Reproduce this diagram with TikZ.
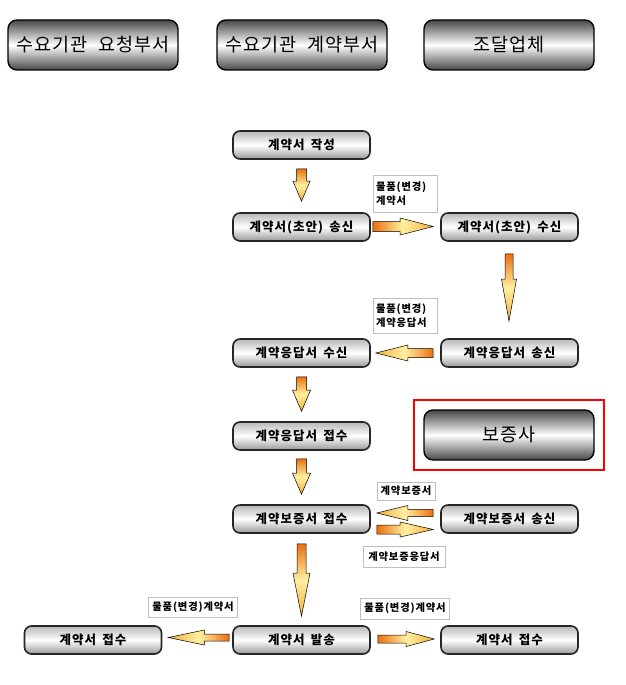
\documentclass[tikz,border=0pt]{standalone}
\usepackage{fontspec}
\setmainfont{Noto Sans CJK KR}
\newfontfamily\hdrfont[LetterSpace=6,WordSpace=2]{Noto Sans CJK KR}
\newfontfamily\spfont[LetterSpace=8,WordSpace=1.6]{Noto Sans CJK KR}
\usetikzlibrary{calc,fit}
\definecolor{arrOr}{HTML}{EA7010}
\definecolor{arrYe}{HTML}{FFEFA0}
\definecolor{arrGo}{HTML}{F2B040}
\tikzset{
 hdr/.style={draw=black, line width=1.4pt, rounded corners=9pt, minimum width=170pt, minimum height=50pt,
   top color=black!72, bottom color=black!72, middle color=white, font=\hdrfont\fontsize{18.5}{21}\selectfont, inner sep=0pt},
 flow/.style={draw=black!85, line width=1.6pt, rounded corners=7pt, minimum width=137pt, minimum height=28pt,
   top color=black!28, bottom color=black!40, middle color=white, font=\spfont\bfseries\fontsize{12.5}{14}\selectfont, inner sep=0pt},
 lbl/.style={draw=black!25, line width=0.8pt, fill=white, font=\spfont\bfseries\fontsize{10.3}{14}\selectfont, inner sep=0pt},
 barr/.style={draw=black, line width=0.5pt, line join=miter},
 rarr/.style={barr, left color=arrOr, right color=arrGo, middle color=arrYe},
 larr/.style={barr, left color=arrGo, right color=arrOr, middle color=arrYe},
 darr/.style={barr, top color=arrOr, bottom color=arrGo, middle color=arrYe},
 redframe/.style={draw=red, line width=2.5pt, inner xsep=9.5pt, inner ysep=9.5pt},
}
% #1 style, #2 start, #3 end, #4 shaft half width, #5 head half width, #6 head length
\newcommand\blockarrow[6]{%
  \coordinate (bah) at ($#3!#6!#2$);
  \path[#1] ($#2!#4!90:#3$) -- ($(bah)!#4!90:#3$) -- ($(bah)!#5!90:#3$) -- #3
    -- ($(bah)!#5!-90:#3$) -- ($(bah)!#4!-90:#3$) -- ($#2!#4!-90:#3$) -- cycle;}
\begin{document}
\begin{tikzpicture}[x=1pt,y=-1pt]
\useasboundingbox (0,0) rectangle (625,685);
% headers
\node[hdr] (h1) at (93,45) {수요기관 요청부서};
\node[hdr] (h2) at (302,45) {수요기관 계약부서};
\node[hdr] (h3) at (509,45) {조달업체};
% flow boxes
\node[flow] (a1) at (301.5,145) {계약서 작성};
\node[flow] (a2) at (301.5,227) {계약서(초안) 송신};
\node[flow] (b2) at (509.5,227) {계약서(초안) 수신};
\node[flow] (b3) at (509.5,353) {계약응답서 송신};
\node[flow] (a3) at (301.5,353) {계약응답서 수신};
\node[flow] (a4) at (301.5,436) {계약응답서 접수};
\node[flow] (a5) at (301.5,519) {계약보증서 접수};
\node[flow] (b5) at (509.5,519) {계약보증서 송신};
\node[flow] (a6) at (301.5,640) {계약서 발송};
\node[flow] (c6) at (93,640) {계약서 접수};
\node[flow] (b6) at (509.5,640) {계약서 접수};
% guarantor
\node[hdr] (g) at (509,435) {보증사};
\node[redframe, fit=(g)] (gf) {};
% labels
\node[lbl, text width=58pt, inner xsep=3pt, minimum height=37pt, align=left] (l1) at (405,193.5) {물품(변경)\\계약서};
\node[lbl, text width=58pt, inner xsep=3pt, minimum height=35pt, align=left] (l2) at (405,315.5) {물품(변경)\\계약응답서};
\node[lbl, minimum width=58pt, minimum height=18pt] (l3) at (406,491) {계약보증서};
\node[lbl, minimum width=82pt, minimum height=21pt] (l4) at (404,556.5) {계약보증응답서};
\node[lbl, minimum width=89pt, minimum height=20pt] (l5) at (193,607) {물품(변경)계약서};
\node[lbl, minimum width=89pt, minimum height=21pt] (l6) at (405,608.5) {물품(변경)계약서};
% arrow end points
\coordinate (s1) at ($(a1.south)+(0,9)$);   \coordinate (e1) at ($(a2.north)+(0,-11)$);
\coordinate (s2) at ($(a2.east)+(2,-0.5)$); \coordinate (e2) at ($(b2.west)+(-7,-0.5)$);
\coordinate (s3) at ($(b2.south)+(-0.5,12)$); \coordinate (e3) at ($(b3.north)+(-0.5,-17)$);
\coordinate (s4) at ($(b3.west)+(-7,0)$);   \coordinate (e4) at ($(a3.east)+(5,0)$);
\coordinate (s5) at ($(a3.south)+(0,9)$);   \coordinate (e5) at ($(a4.north)+(0,-10)$);
\coordinate (s6) at ($(a4.south)+(0,8)$);   \coordinate (e6) at ($(a5.north)+(0,-10)$);
\coordinate (s7) at ($(b5.west)+(-7,-6)$);  \coordinate (e7) at ($(a5.east)+(6,-6)$);
\coordinate (s8) at ($(a5.east)+(6,10.5)$); \coordinate (e8) at ($(b5.west)+(-7,10.5)$);
\coordinate (s9) at ($(a5.south)+(0,10)$);  \coordinate (e9) at ($(a6.north)+(0,-9)$);
\coordinate (s10) at ($(a6.west)+(-3,-2.5)$); \coordinate (e10) at ($(c6.east)+(6,-2.5)$);
\coordinate (s11) at ($(a6.east)+(7,-1)$);  \coordinate (e11) at ($(b6.west)+(-6,-1)$);
% arrows
\blockarrow{darr}{(s1)}{(e1)}{5pt}{8.5pt}{20pt}
\blockarrow{rarr}{(s2)}{(e2)}{5pt}{8.5pt}{33pt}
\blockarrow{darr}{(s3)}{(e3)}{4pt}{7.5pt}{42pt}
\blockarrow{larr}{(s4)}{(e4)}{4.5pt}{8pt}{32pt}
\blockarrow{darr}{(s5)}{(e5)}{5pt}{9pt}{21pt}
\blockarrow{darr}{(s6)}{(e6)}{5pt}{9pt}{21pt}
\blockarrow{larr}{(s7)}{(e7)}{3.7pt}{7.5pt}{31pt}
\blockarrow{rarr}{(s8)}{(e8)}{4.5pt}{7.5pt}{33pt}
\blockarrow{darr}{(s9)}{(e9)}{4.5pt}{8.5pt}{43pt}
\blockarrow{larr}{(s10)}{(e10)}{3.5pt}{7.5pt}{36pt}
\blockarrow{rarr}{(s11)}{(e11)}{4pt}{7.5pt}{28pt}
\end{tikzpicture}
\end{document}
